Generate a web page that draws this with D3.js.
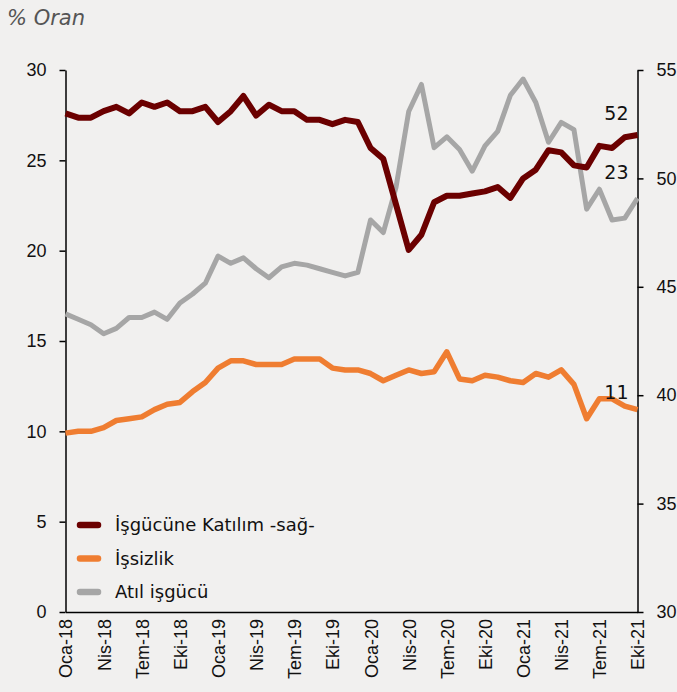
<!DOCTYPE html>
<html>
<head>
<meta charset="utf-8">
<script src="https://cdn.jsdelivr.net/npm/d3@7"></script>
<style>
   html, body { margin: 0; padding: 0; background: #f1f0ef; }
   svg { display: block; font-family: "DejaVu Sans", sans-serif; }
   .axis path, .axis line { stroke: #000; stroke-width: 1.5px; }
   .axis text { fill: #111; font-size: 18px; }
   .line { fill: none; stroke-linejoin: round; }
</style>
</head>
<body>
<div id="mainChart"></div>
<script>
// Categories (monthly, Oca-18 .. Eki-21)
const months = [
   "Oca-18","Şub-18","Mar-18","Nis-18","May-18","Haz-18","Tem-18","Ağu-18","Eyl-18","Eki-18","Kas-18","Ara-18",
   "Oca-19","Şub-19","Mar-19","Nis-19","May-19","Haz-19","Tem-19","Ağu-19","Eyl-19","Eki-19","Kas-19","Ara-19",
   "Oca-20","Şub-20","Mar-20","Nis-20","May-20","Haz-20","Tem-20","Ağu-20","Eyl-20","Eki-20","Kas-20","Ara-20",
   "Oca-21","Şub-21","Mar-21","Nis-21","May-21","Haz-21","Tem-21","Ağu-21","Eyl-21","Eki-21"
]

// İşgücüne Katılım (right axis)
const katilim = [
   53.0, 52.8, 52.8, 53.1, 53.3, 53.0, 53.5, 53.3, 53.5, 53.1, 53.1, 53.3,
   52.6, 53.1, 53.8, 52.9, 53.4, 53.1, 53.1, 52.7, 52.7, 52.5, 52.7, 52.6,
   51.4, 50.9, 48.8, 46.7, 47.4, 48.9, 49.2, 49.2, 49.3, 49.4, 49.6, 49.1,
   50.0, 50.4, 51.3, 51.2, 50.6, 50.5, 51.5, 51.4, 51.9, 52.0
]

// İşsizlik (left axis)
const issizlik = [
   9.9, 10.0, 10.0, 10.2, 10.6, 10.7, 10.8, 11.2, 11.5, 11.6, 12.2, 12.7,
   13.5, 13.9, 13.9, 13.7, 13.7, 13.7, 14.0, 14.0, 14.0, 13.5, 13.4, 13.4,
   13.2, 12.8, 13.1, 13.4, 13.2, 13.3, 14.4, 12.9, 12.8, 13.1, 13.0, 12.8,
   12.7, 13.2, 13.0, 13.4, 12.6, 10.7, 11.8, 11.8, 11.4, 11.2
]

// Atıl işgücü (left axis)
const atil = [
   16.5, 16.2, 15.9, 15.4, 15.7, 16.3, 16.3, 16.6, 16.2, 17.1, 17.6, 18.2,
   19.7, 19.3, 19.6, 19.0, 18.5, 19.1, 19.3, 19.2, 19.0, 18.8, 18.6, 18.8,
   21.7, 21.0, 23.5, 27.7, 29.2, 25.7, 26.3, 25.6, 24.4, 25.8, 26.6, 28.6,
   29.5, 28.2, 26.0, 27.1, 26.7, 22.3, 23.4, 21.7, 21.8, 22.9
]

const leftTicks = [0, 5, 10, 15, 20, 25, 30]
const rightTicks = [30, 35, 40, 45, 50, 55]
const xTickLabels = months.filter((m, i) => i % 3 === 0)

// end-of-line value labels
const endLabels = [
   { text: "52", value: 52.8, axis: "right" },
   { text: "23", value: 24.1, axis: "left" },
   { text: "11", value: 11.9, axis: "left" }
]

const series = [
   { id: "atil", name: "Atıl işgücü", data: atil, axis: "left", color: "#a6a6a6", width: 5 },
   { id: "issizlik", name: "İşsizlik", data: issizlik, axis: "left", color: "#ef7d31", width: 5.5 },
   { id: "katilim", name: "İşgücüne Katılım -sağ-", data: katilim, axis: "right", color: "#6b0000", width: 6 }
]
const legendOrder = ["katilim", "issizlik", "atil"]

const W = 677, H = 692
const margin = { top: 70, right: 39.5, bottom: 80, left: 65.5 }
const width = W - margin.left - margin.right
const height = H - margin.top - margin.bottom

const svg = d3.select("#mainChart").append("svg")
   .attr("width", W)
   .attr("height", H)

svg.append("rect").attr("width", W).attr("height", H).attr("fill", "#f1f0ef")

// Title
svg.append("text")
   .attr("x", 7)
   .attr("y", 25)
   .attr("fill", "#555")
   .style("font-size", "21px")
   .style("font-style", "italic")
   .text("% Oran")

const g = svg.append("g")
   .attr("transform", "translate(" + margin.left + "," + margin.top + ")")

// Scales
const x = d3.scalePoint().domain(months).range([0, width])
const yL = d3.scaleLinear().domain([0, 30]).range([height, 0])
const yR = d3.scaleLinear().domain([30, 55]).range([height, 0])

// Axes
g.append("g")
   .attr("class", "axis")
   .attr("transform", "translate(0," + height + ")")
   .call(d3.axisBottom(x).tickValues(xTickLabels).tickSize(0).tickSizeOuter(0))
   .call(a => a.selectAll("text")
      .attr("transform", "rotate(-90)")
      .attr("text-anchor", "end")
      .attr("x", -7)
      .attr("y", 0)
      .attr("dy", "0.36em"))

g.append("g")
   .attr("class", "axis")
   .call(d3.axisLeft(yL).tickValues(leftTicks).tickSize(6).tickSizeOuter(0).tickPadding(13))

g.append("g")
   .attr("class", "axis")
   .attr("transform", "translate(" + width + ",0)")
   .call(d3.axisRight(yR).tickValues(rightTicks).tickSize(6).tickSizeOuter(0).tickPadding(13))

// Lines
series.forEach(s => {
   const yS = s.axis === "left" ? yL : yR
   const line = d3.line()
      .x((d, i) => x(months[i]))
      .y(d => yS(d))

   g.append("path")
      .datum(s.data)
      .attr("class", "line " + s.id)
      .attr("d", line)
      .attr("stroke", s.color)
      .attr("stroke-width", s.width)
})

// End labels
endLabels.forEach(l => {
   const yS = l.axis === "left" ? yL : yR
   g.append("text")
      .attr("x", x(months[months.length - 1]) - 9)
      .attr("y", yS(l.value) + 2)
      .attr("text-anchor", "end")
      .attr("fill", "#111")
      .style("font-size", "19px")
      .text(l.text)
})

// Legend
const legend = svg.append("g").attr("transform", "translate(77,525)")
legendOrder.forEach((id, i) => {
   const s = series.find(d => d.id === id)
   const row = legend.append("g").attr("transform", "translate(0," + (i * 33.5) + ")")
   row.append("line")
      .attr("x1", 3).attr("x2", 21)
      .attr("stroke", s.color)
      .attr("stroke-width", 6.5)
      .attr("stroke-linecap", "round")
   row.append("text")
      .attr("x", 38)
      .attr("dy", "0.35em")
      .attr("fill", "#111")
      .style("font-size", "18px")
      .text(s.name)
})
</script>
</body>
</html>
